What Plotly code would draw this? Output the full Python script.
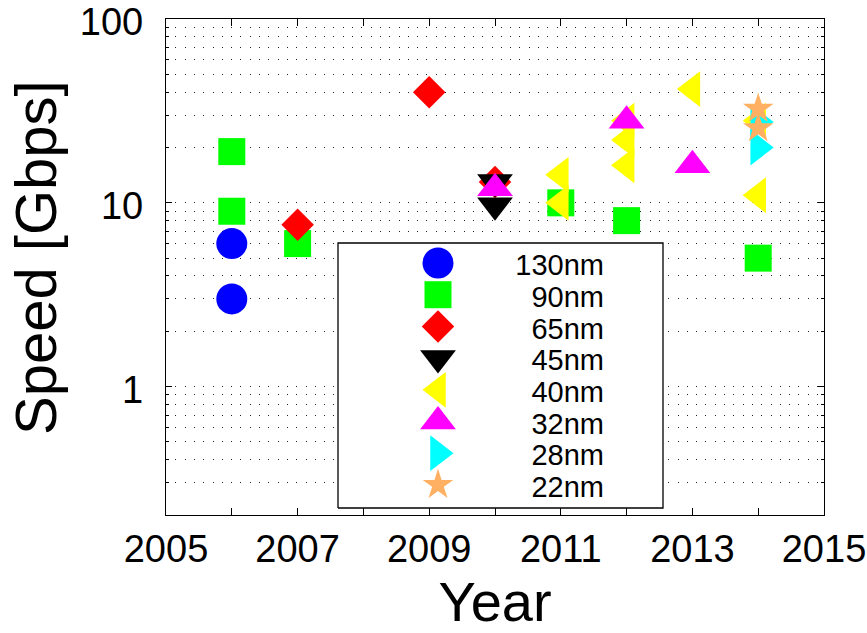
import math
import plotly.graph_objects as go

# ---------------- data ----------------
labels = ["130nm", "90nm", "65nm", "45nm", "40nm", "32nm", "28nm", "22nm"]

years_130 = [2006, 2006]
speed_130 = [6.0, 3.0]
years_90 = [2006, 2006, 2007, 2011, 2012, 2014]
speed_90 = [19.0, 9.0, 6.0, 10.0, 8.0, 5.0]
years_65 = [2007, 2009, 2010]
speed_65 = [7.6, 40.0, 13.0]
years_45 = [2010, 2010]
speed_45 = [13.0, 9.7]
years_40 = [2011, 2011, 2012, 2012, 2012, 2013, 2014, 2014]
speed_40 = [14.2, 10.0, 28.0, 22.0, 16.0, 41.6, 28.0, 11.0]
years_32 = [2010, 2012, 2013]
speed_32 = [12.0, 28.0, 16.0]
years_28 = [2014, 2014]
speed_28 = [27.5, 20.0]
years_22 = [2014, 2014]
speed_22 = [32.5, 25.5]

x_tick_vals = [2005, 2007, 2009, 2011, 2013, 2015]
y_tick_vals = [1, 10, 100]
y_tick_text = ["1", "10", "100"]

# ---------------- style ----------------
series_x = [years_130, years_90, years_65, years_45, years_40, years_32, years_28, years_22]
series_y = [speed_130, speed_90, speed_65, speed_45, speed_40, speed_32, speed_28, speed_22]
colors = ["#0000ff", "#00ff00", "#ff0000", "#000000", "#ffff00", "#ff00ff", "#00ffff", "#ffb062"]
symbols = ["circle", "square", "diamond", "triangle-down", "triangle-left",
           "triangle-up", "triangle-right", "star"]
sizes = [31, 27, 25, 31, 31, 31, 31, 23]

FONT = "Liberation Sans, Arial, sans-serif"
W, H = 867, 633
PL, PR, PT, PB = 166, 824, 19, 515  # plot area in pixels

fig = go.Figure()

for xs, ys, c, s, sz, name in zip(series_x, series_y, colors, symbols, sizes, labels):
    fig.add_trace(go.Scatter(
        x=xs, y=ys, mode="markers", name=name, showlegend=False,
        marker=dict(symbol=s, color=c, size=sz, opacity=1, line=dict(width=0)),
        hoverinfo="x+y+name",
    ))

# ---------------- custom legend (overlay axes in plot-fraction units) ----------------
def fx(px):
    return (px - PL) / (PR - PL)

def fy(py):
    return 1 - (py - PT) / (PB - PT)

box_l, box_r, box_t, box_b = 338, 663, 243, 508
fig.add_trace(go.Scatter(
    x=[fx(box_l), fx(box_r), fx(box_r), fx(box_l), fx(box_l)],
    y=[fy(box_b), fy(box_b), fy(box_t), fy(box_t), fy(box_b)],
    mode="lines", fill="toself", fillcolor="white",
    line=dict(color="black", width=1.3),
    xaxis="x2", yaxis="y2", showlegend=False, hoverinfo="skip",
))

row0, step = 263, 31.7
key_y = [fy(row0 + i * step) for i in range(len(labels))]
text_y = [fy(row0 + 5 + i * step) for i in range(len(labels))]
fig.add_trace(go.Scatter(
    x=[fx(438)] * len(labels), y=key_y, mode="markers",
    marker=dict(symbol=symbols, color=colors, size=sizes, opacity=1, line=dict(width=0)),
    xaxis="x2", yaxis="y2", showlegend=False, hoverinfo="skip",
))
fig.add_trace(go.Scatter(
    x=[fx(604)] * len(labels), y=text_y, mode="text", text=labels,
    textposition="middle left",
    textfont=dict(family=FONT, size=29, color="black"),
    xaxis="x2", yaxis="y2", showlegend=False, hoverinfo="skip",
))

fig.update_layout(
    width=W, height=H,
    margin=dict(l=PL, r=W - PR, t=PT, b=H - PB, pad=0, autoexpand=False),
    paper_bgcolor="white", plot_bgcolor="white",
    font=dict(family=FONT, color="black"),
    showlegend=False,
    xaxis=dict(
        range=[2005, 2015], tickvals=x_tick_vals,
        ticks="inside", ticklen=7, tickwidth=1, tickcolor="black",
        showline=True, linecolor="black", linewidth=1.3, mirror="ticks",
        showgrid=False, zeroline=False, automargin=False,
        minor=dict(dtick=1, tick0=2005, ticks="inside", ticklen=7, tickcolor="black", showgrid=False),
        tickfont=dict(family=FONT, size=38, color="black"),
        ticklabelstandoff=0, ticklabeloverflow="allow",
        title=dict(text="Year", font=dict(family=FONT, size=56, color="black"), standoff=18),
    ),
    yaxis=dict(
        type="log", range=[math.log10(0.2), 2.0005],
        tickvals=y_tick_vals, ticktext=y_tick_text,
        ticks="inside", ticklen=6, tickwidth=1, tickcolor="black",
        showline=True, linecolor="black", linewidth=1.3, mirror="ticks",
        showgrid=True, gridcolor="#222222", gridwidth=1, griddash="1px,8.3px",
        zeroline=False, automargin=False,
        minor=dict(dtick="D1", ticks="inside", ticklen=3, tickcolor="black",
                   showgrid=True, gridcolor="#222222", gridwidth=1, griddash="1px,8.3px"),
        tickfont=dict(family=FONT, size=38, color="black"),
        ticklabelstandoff=14, ticklabeloverflow="allow", ticklabelshift=3,
    ),
    xaxis2=dict(overlaying="x", range=[0, 1], visible=False, fixedrange=True),
    yaxis2=dict(overlaying="y", range=[0, 1], visible=False, fixedrange=True),
    annotations=[dict(
        text="Speed [Gbps]", textangle=-90, showarrow=False,
        xref="paper", yref="paper",
        x=(35 - PL) / (PR - PL), y=1 - (258 - PT) / (PB - PT),
        xanchor="center", yanchor="middle",
        font=dict(family=FONT, size=58, color="black"),
    )],
)

fig.write_html(
    "out.html",
    config={"displayModeBar": False},
    post_script="document.body.style.margin='0';document.body.style.overflow='hidden';",
)
